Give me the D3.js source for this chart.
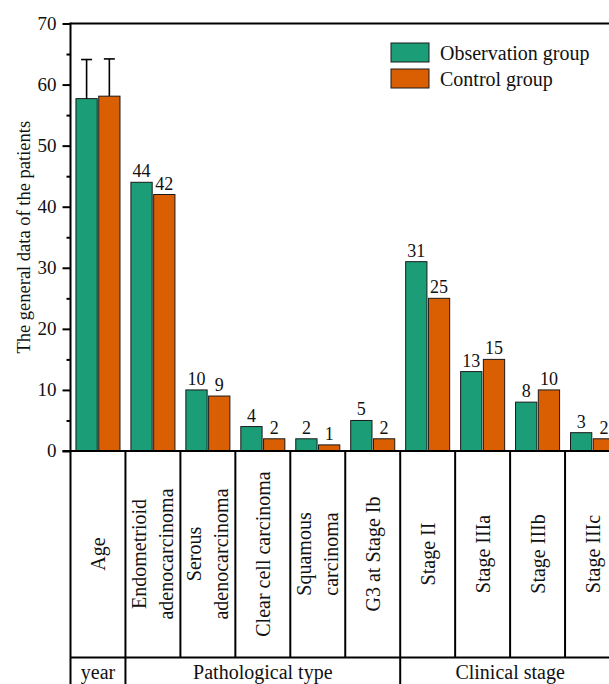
<!DOCTYPE html>
<html>
<head>
<meta charset="utf-8">
<script src="https://cdn.jsdelivr.net/npm/d3@7"></script>
</head>
<body style="margin:0">
<svg id="chart" width="609" height="684"></svg>
<script>
// Category rows of the table (lines of each rotated label)
const categories = ["Age", "Endometrioid", "Serous", "Clear cell", "Squamous", "G3 Ib",
                    "Stage II", "Stage IIIa", "Stage IIIb", "Stage IIIc"];
const categoryLabels = [
  ["Age"],
  ["Endometrioid", "adenocarcinoma"],
  ["Serous", "adenocarcinoma"],
  ["Clear cell carcinoma"],
  ["Squamous", "carcinoma"],
  ["G3 at Stage Ib"],
  ["Stage II"],
  ["Stage IIIa"],
  ["Stage IIIb"],
  ["Stage IIIc"]
];
const seriesNames = ["Observation group", "Control group"];
const observation = [57.7, 44, 10, 4, 2, 5, 31, 13, 8, 3];
const control     = [58.1, 42, 9, 2, 1, 2, 25, 15, 10, 2];
// Standard deviation for the age row only
const observationErr = [6.4, null, null, null, null, null, null, null, null, null];
const controlErr     = [6.1, null, null, null, null, null, null, null, null, null];
// Bottom row: spans of categories
const groupSpans = [
  { label: "year", from: 0, to: 0 },
  { label: "Pathological type", from: 1, to: 5 },
  { label: "Clinical stage", from: 6, to: 9 }
];
const yTicks = [0, 10, 20, 30, 40, 50, 60, 70];
const yMinorTicks = [5, 15, 25, 35, 45, 55, 65];

const colors = ["#1b9e77", "#d95f02"];
const svg = d3.select("#chart");

// Serif text helper
function serif(sel, size) {
  return sel.style("font-family", "'Liberation Serif'").style("font-size", size + "px");
}

const plotLeft = 70.5, plotRight = 620, plotTop = 23.5, plotBottom = 451;
const tableBottom = 657.5;

const x = d3.scaleBand().domain(categories).range([plotLeft, plotRight]).padding(0);
const xs = d3.scaleBand().domain(seriesNames).range([0, x.bandwidth()])
  .paddingInner(0.065).paddingOuter(0.24);
const y = d3.scaleLinear().domain([0, 70]).range([plotBottom, plotTop]);

const rows = categories.map((c, i) => ({
  cat: c,
  vals: [
    { s: seriesNames[0], v: observation[i], e: observationErr[i], color: colors[0] },
    { s: seriesNames[1], v: control[i], e: controlErr[i], color: colors[1] }
  ]
}));

// Bars
const groups = svg.append("g").selectAll("g").data(rows).join("g")
  .attr("transform", d => `translate(${x(d.cat)},0)`);

groups.selectAll("rect").data(d => d.vals).join("rect")
  .attr("x", d => xs(d.s))
  .attr("y", d => y(d.v))
  .attr("width", xs.bandwidth())
  .attr("height", d => y(0) - y(d.v))
  .attr("fill", d => d.color)
  .attr("stroke", "#1a1a1a")
  .attr("stroke-width", 1);

// Error bars (upper half)
groups.selectAll("g.err").data(d => d.vals.filter(v => v.e != null)).join("g")
  .attr("class", "err")
  .each(function(d) {
    const g = d3.select(this);
    const cx = xs(d.s) + xs.bandwidth() / 2;
    g.append("line").attr("x1", cx).attr("x2", cx)
      .attr("y1", y(d.v)).attr("y2", y(d.v + d.e))
      .attr("stroke", "#000").attr("stroke-width", 1.6);
    g.append("line").attr("x1", cx - 5.5).attr("x2", cx + 5.5)
      .attr("y1", y(d.v + d.e)).attr("y2", y(d.v + d.e))
      .attr("stroke", "#000").attr("stroke-width", 1.6);
  });

// Value labels (all but the age row)
groups.filter((d, i) => i > 0).each(function(d) {
  const g = d3.select(this);
  d.vals.forEach(v => {
    serif(g.append("text"), 18)
      .attr("x", xs(v.s) + xs.bandwidth() / 2)
      .attr("y", y(v.v) - 5)
      .attr("text-anchor", "middle")
      .attr("fill", "#111")
      .text(d3.format("d")(v.v));
  });
});

// Top frame line
svg.append("line").attr("x1", plotLeft).attr("x2", plotRight)
  .attr("y1", plotTop).attr("y2", plotTop)
  .attr("stroke", "#000").attr("stroke-width", 2);

// Y axis: tick marks from the axis generator, labels drawn alongside
const yAxis = svg.append("g").attr("transform", `translate(${plotLeft},0)`)
  .call(d3.axisLeft(y).tickValues(yTicks).tickSize(8).tickFormat(""));
yAxis.select(".domain").remove();
yAxis.selectAll(".tick line").attr("stroke", "#000").attr("stroke-width", 2);
yTicks.forEach(t => {
  serif(svg.append("text"), 19)
    .attr("x", plotLeft - 14).attr("y", y(t)).attr("dy", "0.33em")
    .attr("text-anchor", "end").attr("fill", "#111")
    .text(d3.format("d")(t));
});

const yMinor = svg.append("g").attr("transform", `translate(${plotLeft},0)`)
  .call(d3.axisLeft(y).tickValues(yMinorTicks).tickSize(4).tickFormat(""));
yMinor.select(".domain").remove();
yMinor.selectAll(".tick line").attr("stroke", "#000").attr("stroke-width", 2);

// Axis line continues down as the table's left border
svg.append("line").attr("x1", plotLeft).attr("x2", plotLeft)
  .attr("y1", plotTop - 1).attr("y2", 684)
  .attr("stroke", "#000").attr("stroke-width", 2);

// Baseline
svg.append("line").attr("x1", plotLeft - 8).attr("x2", plotRight)
  .attr("y1", y(0)).attr("y2", y(0))
  .attr("stroke", "#000").attr("stroke-width", 2);

// Table: category cell separators
categories.slice(1).concat([null]).forEach(c => {
  const xx = c ? x(c) : plotRight;
  svg.append("line").attr("x1", xx).attr("x2", xx)
    .attr("y1", y(0)).attr("y2", tableBottom)
    .attr("stroke", "#000").attr("stroke-width", 2);
});
svg.append("line").attr("x1", plotLeft).attr("x2", plotRight)
  .attr("y1", tableBottom).attr("y2", tableBottom)
  .attr("stroke", "#000").attr("stroke-width", 2);

// Rotated category labels, one text element per line
const labelCenterY = 554;
const lineGap = 27;
categories.forEach((c, i) => {
  const cx = x(c) + x.bandwidth() / 2;
  const lines = categoryLabels[i];
  lines.forEach((ln, j) => {
    const off = (j - (lines.length - 1) / 2) * lineGap;
    serif(svg.append("text"), 20)
      .attr("transform", `translate(${cx + off},${labelCenterY}) rotate(-90)`)
      .attr("text-anchor", "middle")
      .attr("dy", "0.35em")
      .attr("fill", "#111")
      .text(ln);
  });
});

// Group spans row
groupSpans.forEach(g => {
  const x0 = x(categories[g.from]);
  const x1 = x(categories[g.to]) + x.bandwidth();
  if (g.from > 0) {
    svg.append("line").attr("x1", x0).attr("x2", x0)
      .attr("y1", tableBottom).attr("y2", 684)
      .attr("stroke", "#000").attr("stroke-width", 2);
  }
  serif(svg.append("text"), 20)
    .attr("x", (x0 + x1) / 2).attr("y", 679)
    .attr("text-anchor", "middle")
    .attr("fill", "#111")
    .text(g.label);
});

// Y axis title
serif(svg.append("text"), 18.5)
  .attr("transform", `translate(24,${(plotTop + plotBottom) / 2}) rotate(-90)`)
  .attr("text-anchor", "middle")
  .attr("dy", "0.35em")
  .attr("fill", "#111")
  .text("The general data of the patients");

// Legend
seriesNames.forEach((s, i) => {
  svg.append("rect").attr("x", 391).attr("y", 43 + i * 26)
    .attr("width", 38).attr("height", 19)
    .attr("fill", colors[i]).attr("stroke", "#1a1a1a").attr("stroke-width", 1);
  serif(svg.append("text"), 20)
    .attr("x", 440).attr("y", 43 + i * 26 + 9.5).attr("dy", "0.35em")
    .attr("fill", "#111").text(s);
});
</script>
</body>
</html>
